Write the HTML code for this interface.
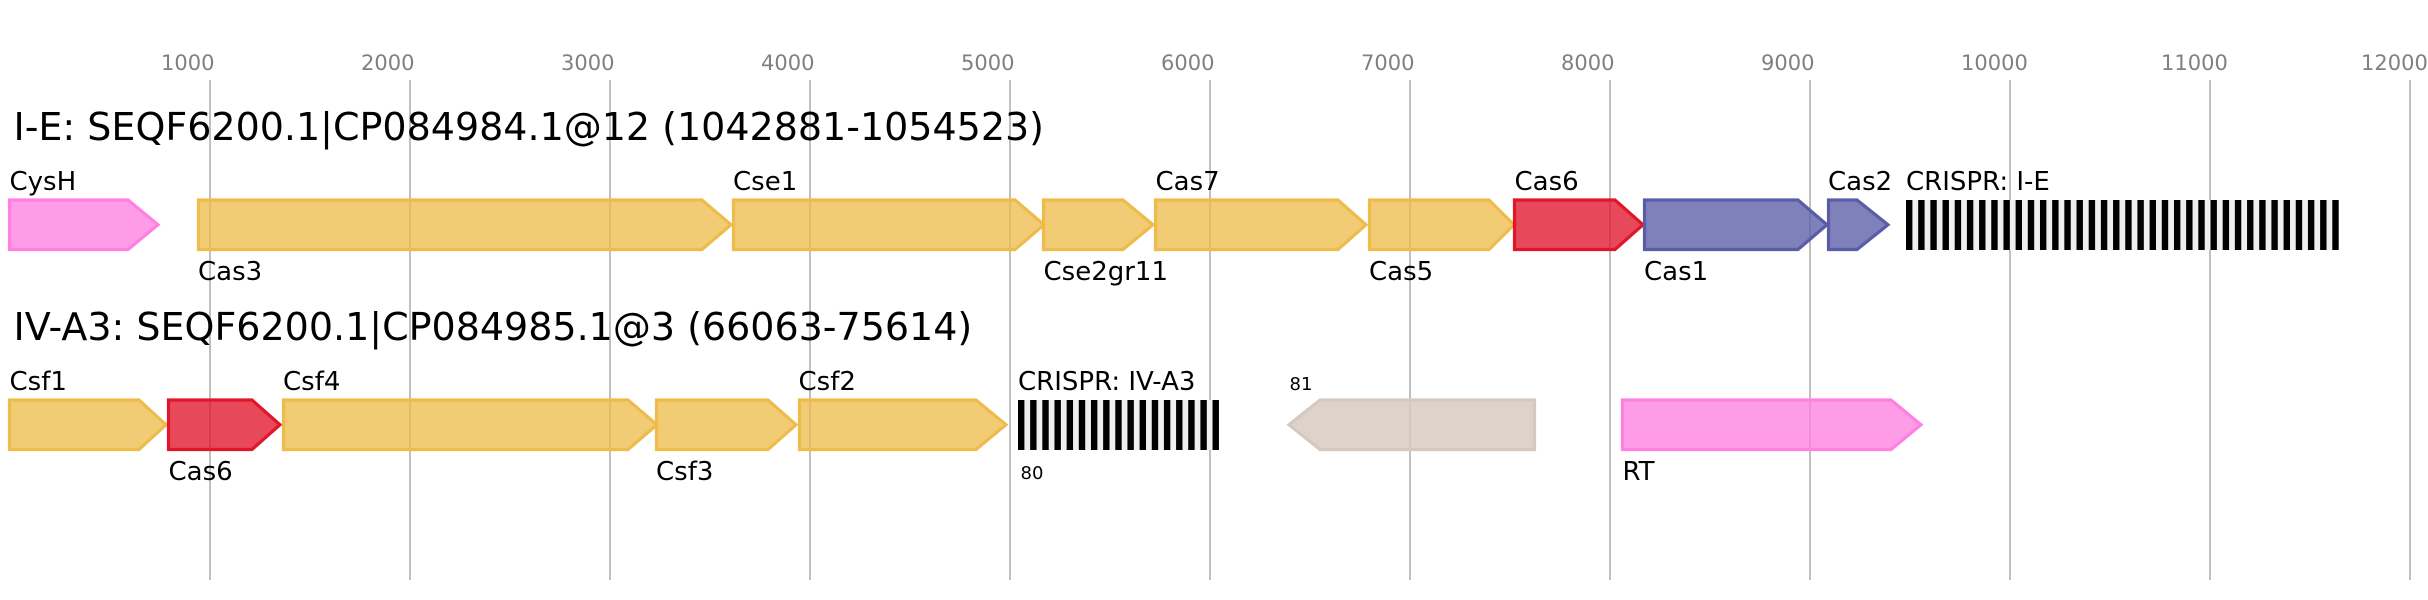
<!DOCTYPE html>
<html>
<head>
<meta charset="utf-8">
<style>
  html, body { margin: 0; padding: 0; background: #ffffff; }
  svg { display: block; }
  text { font-family: "DejaVu Sans", "Liberation Sans", sans-serif; }
</style>
</head>
<body>
<svg width="2428" height="600" viewBox="0 0 2428 600" xmlns="http://www.w3.org/2000/svg">
  <rect x="0" y="0" width="2428" height="600" fill="#ffffff"/>

  <!-- grid lines -->
  <g stroke="#c0c0c0" stroke-width="2">
    <line x1="210" y1="80" x2="210" y2="580"/>
    <line x1="410" y1="80" x2="410" y2="580"/>
    <line x1="610" y1="80" x2="610" y2="580"/>
    <line x1="810" y1="80" x2="810" y2="580"/>
    <line x1="1010" y1="80" x2="1010" y2="580"/>
    <line x1="1210" y1="80" x2="1210" y2="580"/>
    <line x1="1410" y1="80" x2="1410" y2="580"/>
    <line x1="1610" y1="80" x2="1610" y2="580"/>
    <line x1="1810" y1="80" x2="1810" y2="580"/>
    <line x1="2010" y1="80" x2="2010" y2="580"/>
    <line x1="2210" y1="80" x2="2210" y2="580"/>
    <line x1="2410" y1="80" x2="2410" y2="580"/>
  </g>

  <!-- axis labels -->
  <g fill="#808080" font-size="21">
    <text x="161" y="70">1000</text>
    <text x="361" y="70">2000</text>
    <text x="561" y="70">3000</text>
    <text x="761" y="70">4000</text>
    <text x="961" y="70">5000</text>
    <text x="1161" y="70">6000</text>
    <text x="1361" y="70">7000</text>
    <text x="1561" y="70">8000</text>
    <text x="1761" y="70">9000</text>
    <text x="1961" y="70">10000</text>
    <text x="2161" y="70">11000</text>
    <text x="2361" y="70">12000</text>
  </g>

  <!-- titles -->
  <text x="13.5" y="140" font-size="38" fill="#000">I-E: SEQF6200.1|CP084984.1@12 (1042881-1054523)</text>
  <text x="13.5" y="340" font-size="38" fill="#000">IV-A3: SEQF6200.1|CP084985.1@3 (66063-75614)</text>

  <!-- Row 1 genes -->
  <g stroke-width="3.2" stroke-linejoin="miter">
    <polygon points="9.5,200 128,200 158,224.75 128,249.5 9.5,249.5" fill="#ff80e0" fill-opacity="0.78" stroke="#ff80e0"/>
    <polygon points="198.5,200 702,200 731,224.75 702,249.5 198.5,249.5" fill="#edbc4a" fill-opacity="0.76" stroke="#edbc4a"/>
    <polygon points="733.5,200 1015,200 1044,224.75 1015,249.5 733.5,249.5" fill="#edbc4a" fill-opacity="0.76" stroke="#edbc4a"/>
    <polygon points="1043.5,200 1123,200 1153,224.75 1123,249.5 1043.5,249.5" fill="#edbc4a" fill-opacity="0.76" stroke="#edbc4a"/>
    <polygon points="1155.5,200 1338,200 1366,224.75 1338,249.5 1155.5,249.5" fill="#edbc4a" fill-opacity="0.76" stroke="#edbc4a"/>
    <polygon points="1369.5,200 1489,200 1514,224.75 1489,249.5 1369.5,249.5" fill="#edbc4a" fill-opacity="0.76" stroke="#edbc4a"/>
    <polygon points="1514.5,200 1615,200 1643,224.75 1615,249.5 1514.5,249.5" fill="#e0162b" fill-opacity="0.78" stroke="#e0162b"/>
    <polygon points="1644.5,200 1798,200 1827,224.75 1798,249.5 1644.5,249.5" fill="#5a5da6" fill-opacity="0.78" stroke="#5a5da6"/>
    <polygon points="1828.5,200 1857,200 1888,224.75 1857,249.5 1828.5,249.5" fill="#5a5da6" fill-opacity="0.78" stroke="#5a5da6"/>
  </g>

  <!-- Row 1 CRISPR -->
  <rect x="1906" y="200" width="432.7" height="50" fill="#efefef"/>
  <g fill="#000">
    <rect x="1906.00" y="200" width="6.4" height="50"/>
    <rect x="1918.18" y="200" width="6.4" height="50"/>
    <rect x="1930.36" y="200" width="6.4" height="50"/>
    <rect x="1942.54" y="200" width="6.4" height="50"/>
    <rect x="1954.72" y="200" width="6.4" height="50"/>
    <rect x="1966.90" y="200" width="6.4" height="50"/>
    <rect x="1979.08" y="200" width="6.4" height="50"/>
    <rect x="1991.26" y="200" width="6.4" height="50"/>
    <rect x="2003.44" y="200" width="6.4" height="50"/>
    <rect x="2015.62" y="200" width="6.4" height="50"/>
    <rect x="2027.80" y="200" width="6.4" height="50"/>
    <rect x="2039.98" y="200" width="6.4" height="50"/>
    <rect x="2052.16" y="200" width="6.4" height="50"/>
    <rect x="2064.34" y="200" width="6.4" height="50"/>
    <rect x="2076.52" y="200" width="6.4" height="50"/>
    <rect x="2088.70" y="200" width="6.4" height="50"/>
    <rect x="2100.88" y="200" width="6.4" height="50"/>
    <rect x="2113.06" y="200" width="6.4" height="50"/>
    <rect x="2125.24" y="200" width="6.4" height="50"/>
    <rect x="2137.42" y="200" width="6.4" height="50"/>
    <rect x="2149.60" y="200" width="6.4" height="50"/>
    <rect x="2161.78" y="200" width="6.4" height="50"/>
    <rect x="2173.96" y="200" width="6.4" height="50"/>
    <rect x="2186.14" y="200" width="6.4" height="50"/>
    <rect x="2198.32" y="200" width="6.4" height="50"/>
    <rect x="2210.50" y="200" width="6.4" height="50"/>
    <rect x="2222.68" y="200" width="6.4" height="50"/>
    <rect x="2234.86" y="200" width="6.4" height="50"/>
    <rect x="2247.04" y="200" width="6.4" height="50"/>
    <rect x="2259.22" y="200" width="6.4" height="50"/>
    <rect x="2271.40" y="200" width="6.4" height="50"/>
    <rect x="2283.58" y="200" width="6.4" height="50"/>
    <rect x="2295.76" y="200" width="6.4" height="50"/>
    <rect x="2307.94" y="200" width="6.4" height="50"/>
    <rect x="2320.12" y="200" width="6.4" height="50"/>
    <rect x="2332.30" y="200" width="6.4" height="50"/>
  </g>

  <!-- Row 1 labels -->
  <g font-size="26" fill="#000">
    <text x="9.5" y="190">CysH</text>
    <text x="198" y="280">Cas3</text>
    <text x="733" y="190">Cse1</text>
    <text x="1043.5" y="280">Cse2gr11</text>
    <text x="1155.5" y="190">Cas7</text>
    <text x="1369" y="280">Cas5</text>
    <text x="1514.5" y="190">Cas6</text>
    <text x="1644" y="280">Cas1</text>
    <text x="1828" y="190">Cas2</text>
    <text x="1906" y="190">CRISPR: I-E</text>
  </g>

  <!-- Row 2 genes -->
  <g stroke-width="3.2" stroke-linejoin="miter">
    <polygon points="9.5,400 139,400 166,424.75 139,449.5 9.5,449.5" fill="#edbc4a" fill-opacity="0.76" stroke="#edbc4a"/>
    <polygon points="168.5,400 252,400 280,424.75 252,449.5 168.5,449.5" fill="#e0162b" fill-opacity="0.78" stroke="#e0162b"/>
    <polygon points="283.5,400 628,400 657,424.75 628,449.5 283.5,449.5" fill="#edbc4a" fill-opacity="0.76" stroke="#edbc4a"/>
    <polygon points="656.5,400 768,400 796,424.75 768,449.5 656.5,449.5" fill="#edbc4a" fill-opacity="0.76" stroke="#edbc4a"/>
    <polygon points="799.5,400 976,400 1006,424.75 976,449.5 799.5,449.5" fill="#edbc4a" fill-opacity="0.76" stroke="#edbc4a"/>
    <polygon points="1289,424.75 1320,400 1534.5,400 1534.5,449.5 1320,449.5" fill="#d5c9bf" fill-opacity="0.82" stroke="#d5c9bf"/>
    <polygon points="1622.5,400 1891,400 1921,424.75 1891,449.5 1622.5,449.5" fill="#ff80e0" fill-opacity="0.78" stroke="#ff80e0"/>
  </g>

  <!-- Row 2 CRISPR -->
  <rect x="1018" y="400" width="201" height="50" fill="#efefef"/>
  <g fill="#000">
    <rect x="1018.00" y="400" width="6.4" height="50"/>
    <rect x="1030.16" y="400" width="6.4" height="50"/>
    <rect x="1042.32" y="400" width="6.4" height="50"/>
    <rect x="1054.48" y="400" width="6.4" height="50"/>
    <rect x="1066.64" y="400" width="6.4" height="50"/>
    <rect x="1078.80" y="400" width="6.4" height="50"/>
    <rect x="1090.96" y="400" width="6.4" height="50"/>
    <rect x="1103.12" y="400" width="6.4" height="50"/>
    <rect x="1115.28" y="400" width="6.4" height="50"/>
    <rect x="1127.44" y="400" width="6.4" height="50"/>
    <rect x="1139.60" y="400" width="6.4" height="50"/>
    <rect x="1151.76" y="400" width="6.4" height="50"/>
    <rect x="1163.92" y="400" width="6.4" height="50"/>
    <rect x="1176.08" y="400" width="6.4" height="50"/>
    <rect x="1188.24" y="400" width="6.4" height="50"/>
    <rect x="1200.40" y="400" width="6.4" height="50"/>
    <rect x="1212.56" y="400" width="6.4" height="50"/>
  </g>

  <!-- Row 2 labels -->
  <g font-size="26" fill="#000">
    <text x="9.5" y="390">Csf1</text>
    <text x="168.5" y="480">Cas6</text>
    <text x="283" y="390">Csf4</text>
    <text x="656" y="480">Csf3</text>
    <text x="798.5" y="390">Csf2</text>
    <text x="1018" y="390">CRISPR: IV-A3</text>
    <text x="1622.5" y="480">RT</text>
  </g>
  <g font-size="18" fill="#000">
    <text x="1020.5" y="479">80</text>
    <text x="1289.5" y="390">81</text>
  </g>
</svg>
</body>
</html>
